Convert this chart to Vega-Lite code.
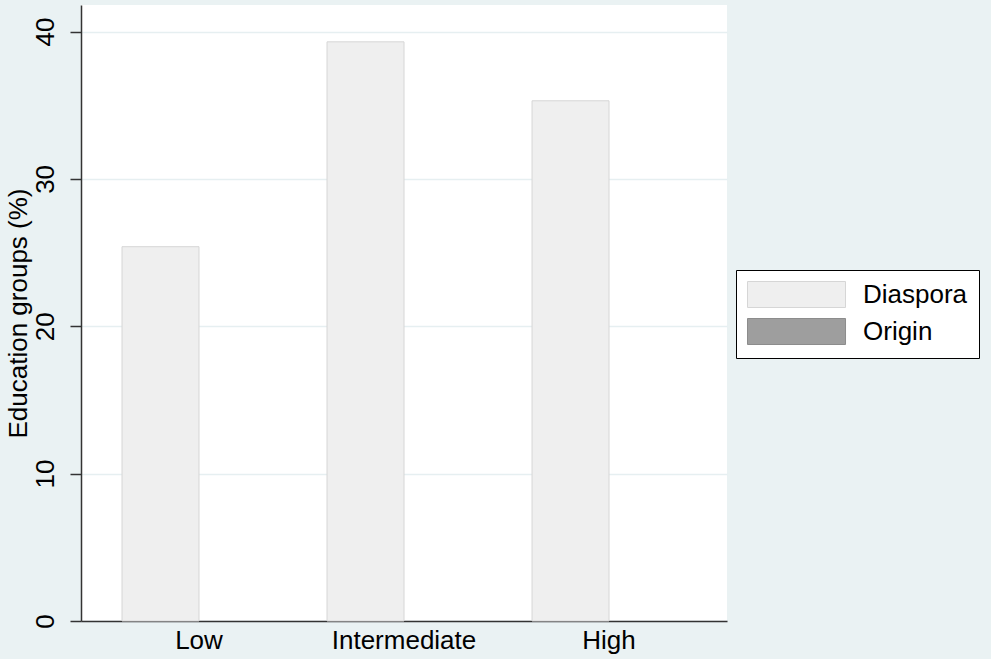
{
  "$schema": "https://vega.github.io/schema/vega-lite/v6.json",
  "width": 646,
  "height": 616,
  "autosize": {"type": "none"},
  "padding": {"left": 81, "top": 5, "right": 264, "bottom": 38},
  "background": "#eaf2f3",
  "config": {
    "view": {"fill": "white", "stroke": null},
    "font": "Liberation Sans",
    "legend": {
      "orient": "none",
      "legendX": 655,
      "legendY": 265,
      "title": null,
      "padding": 11,
      "strokeColor": "#000000",
      "fillColor": "#ffffff",
      "symbolType": "M-1,-1H6.54V1H-1Z",
      "symbolSize": 676,
      "symbolStrokeWidth": 1,
      "symbolOpacity": 1,
      "labelFontSize": 26,
      "labelColor": "#000000",
      "labelOffset": 89,
      "rowPadding": 6,
      "labelFont": "Liberation Sans"
    }
  },
  "data": {
    "values": [
      {"education": "Low", "group": "Diaspora", "pct": 25.4},
      {"education": "Intermediate", "group": "Diaspora", "pct": 39.3},
      {"education": "High", "group": "Diaspora", "pct": 35.3}
    ]
  },
  "mark": {"type": "bar", "strokeWidth": 1, "opacity": 1},
  "encoding": {
    "x": {
      "field": "education",
      "type": "nominal",
      "sort": ["Low", "Intermediate", "High"],
      "scale": {"paddingInner": 0.249, "paddingOuter": 0.2},
      "axis": {
        "title": null,
        "ticks": false,
        "labelAngle": 0,
        "labelFontSize": 26,
        "labelColor": "#000000",
        "labelPadding": 6,
        "domainColor": "#333333",
        "domainWidth": 1.5,
        "grid": false
      }
    },
    "xOffset": {
      "field": "group",
      "type": "nominal",
      "scale": {"domain": ["Diaspora", "Origin"]}
    },
    "y": {
      "field": "pct",
      "type": "quantitative",
      "scale": {"domain": [0, 41.8], "nice": false},
      "axis": {
        "title": "Education groups (%)",
        "titleFontSize": 26,
        "titleFontWeight": "normal",
        "titleColor": "#000000",
        "titlePadding": 1,
        "values": [0, 10, 20, 30, 40],
        "labelAngle": -90,
        "labelFontSize": 26,
        "labelColor": "#000000",
        "labelPadding": 12,
        "tickSize": 11,
        "tickColor": "#333333",
        "tickWidth": 1.5,
        "domainColor": "#333333",
        "domainWidth": 1.5,
        "grid": true,
        "gridColor": "#e6eff1",
        "gridWidth": 1.5
      }
    },
    "color": {
      "field": "group",
      "type": "nominal",
      "scale": {"domain": ["Diaspora", "Origin"], "range": ["#efefef", "#9e9e9e"]}
    },
    "stroke": {
      "field": "group",
      "type": "nominal",
      "scale": {"domain": ["Diaspora", "Origin"], "range": ["#d6d6d6", "#8c8c8c"]}
    }
  }
}
